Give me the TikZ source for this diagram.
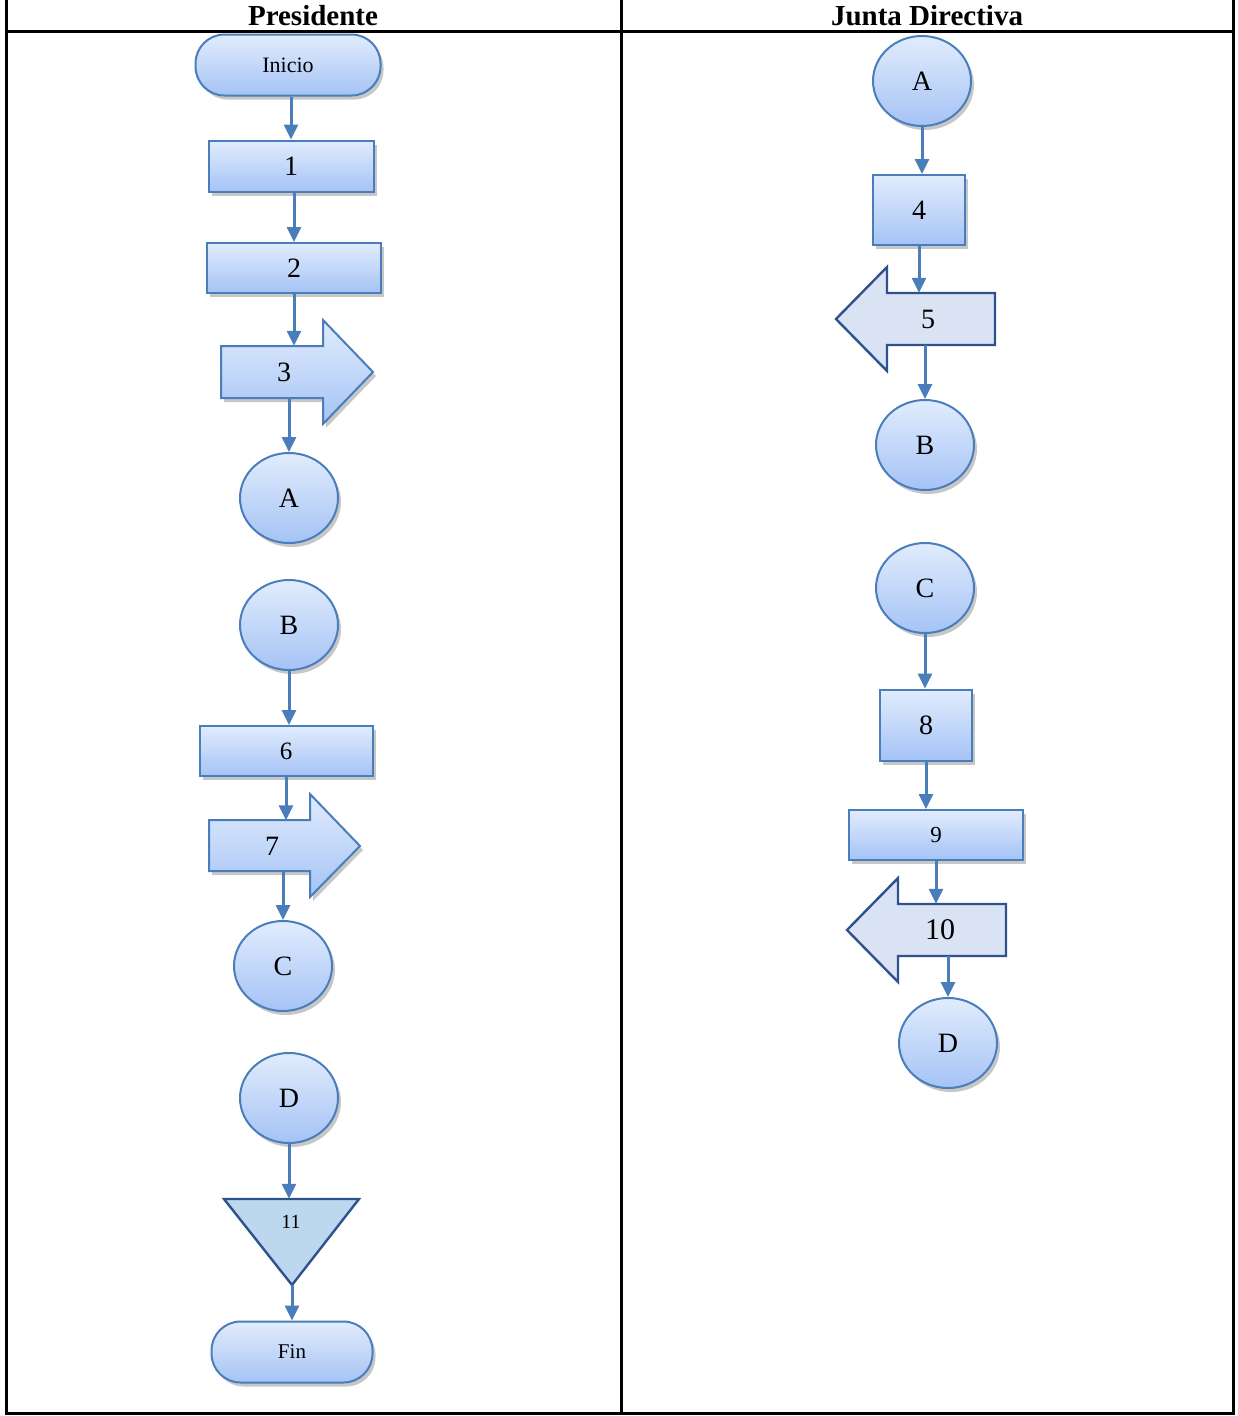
\documentclass[tikz,border=0pt]{standalone}
\usepackage{fontspec}
\setmainfont{Liberation Serif}
\usetikzlibrary{arrows.meta,shapes.geometric,shadows}
\definecolor{bord}{HTML}{4A7EBB}
\definecolor{ftop}{HTML}{E1ECFD}
\definecolor{fbot}{HTML}{A5C3F5}
\definecolor{dkb}{HTML}{2F528F}
\definecolor{trif}{HTML}{BDD7EE}
\definecolor{arrf}{HTML}{DAE3F3}
\definecolor{linec}{HTML}{4A7EBB}
\begin{document}
\begin{tikzpicture}[x=1pt,y=-1pt,
  shad/.style={drop shadow={shadow xshift=3pt,shadow yshift=-4pt,opacity=0.22,fill=black}},
  base/.style={draw=bord, line width=2pt, top color=ftop, bottom color=fbot, shad, inner sep=0pt,
    font=\fontsize{28}{32}\selectfont},
  box/.style={base, rectangle},
  circ/.style={base, ellipse, minimum width=98, minimum height=90},
  term/.style={base, rectangle, rounded corners=29pt, minimum height=61, font=\fontsize{22}{26}\selectfont},
  lbl/.style={inner sep=0pt, font=\fontsize{28}{32}\selectfont},
  rarrow/.style={draw=bord, line width=2pt, top color=ftop, bottom color=fbot, shad},
  larrow/.style={draw=dkb, line width=2.4pt, fill=arrf},
  flow/.style={draw=linec, line width=3pt, -{Triangle[length=15pt,width=14pt]}},
  hdr/.style={font=\fontsize{29}{32}\selectfont\bfseries, inner sep=0pt},
  grid/.style={line width=3pt, black}
]
\useasboundingbox (0,0) rectangle (1237,1416);
% table
\draw[grid] (6,0) -- (6,1413) -- (1233,1413) -- (1233,0);
\draw[grid] (6,31) -- (1233,31);
\draw[grid] (621,0) -- (621,1413);
\node[hdr, anchor=base] (h1) at (313,25) {Presidente};
\node[hdr, anchor=base] (h2) at (927,25) {Junta Directiva};

% ---------- left column ----------
\node[term, minimum width=185] (ini) at (288,65) {Inicio};
\node[box, minimum width=165, minimum height=51] (b1) at (291,166) {1};
\node[box, minimum width=174, minimum height=50] (b2) at (294,268) {2};
\draw[rarrow] (221,346) -- (323,346) -- (323,320) -- (373,372) -- (323,424) -- (323,398) -- (221,398) -- cycle;
\node[lbl, minimum width=102, minimum height=52] (s3) at (284,372) {3};
\node[circ] (ca1) at (289,498) {A};
\node[circ] (cb1) at (289,625) {B};
\node[box, minimum width=173, minimum height=50, font=\fontsize{25}{29}\selectfont] (b6) at (286,751) {6};
\draw[rarrow] (209,820) -- (310,820) -- (310,794) -- (360,846) -- (310,897) -- (310,871) -- (209,871) -- cycle;
\node[lbl, minimum width=101, minimum height=51] (s7) at (272,846) {7};
\node[circ] (cc1) at (283,966) {C};
\node[circ] (cd1) at (289,1098) {D};
\draw[draw=dkb, line width=2.4pt, fill=trif] (224,1199) -- (359,1199) -- (292,1285) -- cycle;
\node[lbl, minimum height=46, font=\fontsize{20}{24}\selectfont] (t11) at (291,1222) {11};
\coordinate (t11apex) at (292,1285);
\node[term, minimum width=161, font=\fontsize{21}{25}\selectfont] (fin) at (292,1352) {Fin};

\draw[flow] (b1.north |- ini.south) -- (b1.north);
\draw[flow] (b2.north |- b1.south) -- (b2.north);
\draw[flow] (b2.south) -- (b2.south |- s3.north);
\draw[flow] (ca1.north |- s3.south) -- (ca1.north);
\draw[flow] (cb1.south) -- (cb1.south |- b6.north);
\draw[flow] (b6.south) -- (b6.south |- s7.north);
\draw[flow] (cc1.north |- s7.south) -- (cc1.north);
\draw[flow] (cd1.south) -- (cd1.south |- t11.north);
\draw[flow] (t11apex) -- (t11apex |- fin.north);

% ---------- right column ----------
\node[circ] (ca2) at (922,81) {A};
\node[box, minimum width=92, minimum height=70] (b4) at (919,210) {4};
\draw[larrow] (995,293) -- (887,293) -- (887,267) -- (836,319) -- (887,371) -- (887,345) -- (995,345) -- cycle;
\node[lbl, minimum width=108, minimum height=52] (s5) at (928,319) {5};
\node[circ] (cb2) at (925,445) {B};
\node[circ] (cc2) at (925,588) {C};
\node[box, minimum width=92, minimum height=71] (b8) at (926,725) {8};
\node[box, minimum width=174, minimum height=50, font=\fontsize{23}{27}\selectfont] (b9) at (936,835) {9};
\draw[larrow] (1006,904) -- (898,904) -- (898,878) -- (847,930) -- (898,982) -- (898,956) -- (1006,956) -- cycle;
\node[lbl, minimum width=108, minimum height=52, font=\fontsize{30}{34}\selectfont] (s10) at (940,930) {10};
\node[circ] (cd2) at (948,1043) {D};

\draw[flow] (ca2.south) -- (ca2.south |- b4.north);
\draw[flow] (b4.south) -- (b4.south |- s5.north);
\draw[flow] (cb2.north |- s5.south) -- (cb2.north);
\draw[flow] (cc2.south) -- (cc2.south |- b8.north);
\draw[flow] (b8.south) -- (b8.south |- b9.north);
\draw[flow] (b9.south) -- (b9.south |- s10.north);
\draw[flow] (cd2.north |- s10.south) -- (cd2.north);
\end{tikzpicture}
\end{document}
